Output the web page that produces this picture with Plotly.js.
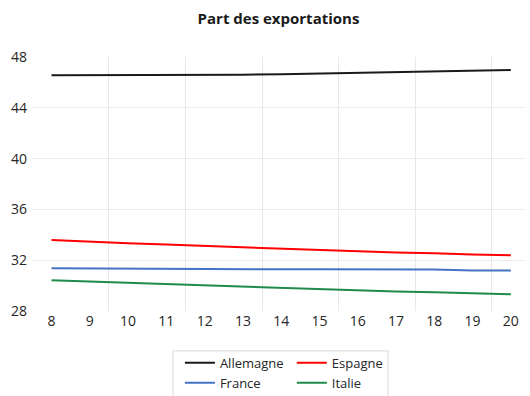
<!DOCTYPE html>
<html>
<head>
<meta charset="utf-8">
<script src="https://cdn.plot.ly/plotly-3.0.1.min.js"></script>
<style>html,body{margin:0;padding:0;background:#fff;}#chart{width:530px;height:396px;}</style>
</head>
<body>
<div id="chart"></div>
<script>
const years = [8, 9, 10, 11, 12, 13, 14, 15, 16, 17, 18, 19, 20];
const allemagne = [46.57, 46.57, 46.57, 46.57, 46.59, 46.61, 46.65, 46.71, 46.75, 46.81, 46.87, 46.91, 46.97];
const espagne = [33.59, 33.44, 33.33, 33.23, 33.12, 33.00, 32.89, 32.78, 32.70, 32.60, 32.55, 32.44, 32.39];
const france = [31.36, 31.34, 31.31, 31.31, 31.31, 31.29, 31.28, 31.28, 31.28, 31.28, 31.26, 31.19, 31.18];
const italie = [30.42, 30.32, 30.24, 30.16, 30.05, 29.95, 29.81, 29.71, 29.61, 29.53, 29.47, 29.37, 29.32];
const yTicks = [28, 32, 36, 40, 44, 48];
const seriesNames = ['Allemagne', 'Espagne', 'France', 'Italie'];

const font = "'Open Sans', 'Liberation Sans', sans-serif";
const traces = [
  {x: years, y: allemagne, name: seriesNames[0], line: {color: '#1a1a1a', width: 2}, legend: 'legend'},
  {x: years, y: france, name: seriesNames[2], line: {color: '#4472C4', width: 2}, legend: 'legend'},
  {x: years, y: espagne, name: seriesNames[1], line: {color: '#FF0000', width: 2}, legend: 'legend2'},
  {x: years, y: italie, name: seriesNames[3], line: {color: '#1E8B4B', width: 2}, legend: 'legend2'}
].map(t => Object.assign({type: 'scatter', mode: 'lines', hoverinfo: 'skip'}, t));

const legendCommon = {
  orientation: 'v', xanchor: 'left', yanchor: 'top', y: -0.145,
  font: {family: font, size: 13, color: '#262626'},
  bgcolor: 'rgba(0,0,0,0)', borderwidth: 0, tracegroupgap: 0
};

const layout = {
  width: 530, height: 396,
  margin: {l: 32, r: 5, t: 57, b: 85, autoexpand: false},
  paper_bgcolor: '#ffffff', plot_bgcolor: '#ffffff',
  font: {family: font, color: '#262626'},
  title: {
    text: '<b>Part des exportations</b>',
    font: {family: font, size: 15, color: '#1a1a1a'},
    xref: 'paper', x: 0.5, xanchor: 'center',
    yref: 'container', y: 0.952, yanchor: 'middle'
  },
  xaxis: {
    range: [7.49, 20.37],
    tickmode: 'array', tickvals: years, ticktext: years.map(String),
    showgrid: false, zeroline: false, showline: false, ticks: '',
    tickfont: {family: font, size: 14, color: '#262626'},
    minor: {tickmode: 'linear', tick0: 9.5, dtick: 2, showgrid: true, gridcolor: '#e8e8e8', gridwidth: 1, ticks: ''}
  },
  yaxis: {
    range: [28, 48],
    tickmode: 'array', tickvals: yTicks, ticktext: yTicks.map(String),
    showgrid: false, zeroline: false, showline: false, ticks: '',
    ticklabelstandoff: 4,
    tickfont: {family: font, size: 14, color: '#262626'},
    minor: {tickmode: 'array', tickvals: yTicks.slice(1, -1), showgrid: true, gridcolor: '#ececec', gridwidth: 1, ticks: ''}
  },
  legend: Object.assign({x: 0.30}, legendCommon),
  legend2: Object.assign({x: 0.527}, legendCommon),
  shapes: [{
    type: 'rect', xref: 'paper', yref: 'paper',
    x0: 0.286, x1: 0.722, y0: -0.157, y1: -0.36,
    line: {color: '#d9d9d9', width: 1}, fillcolor: 'rgba(0,0,0,0)', layer: 'below'
  }],
  showlegend: true
};

Plotly.newPlot('chart', traces, layout, {staticPlot: true, displayModeBar: false});
</script>
</body>
</html>
